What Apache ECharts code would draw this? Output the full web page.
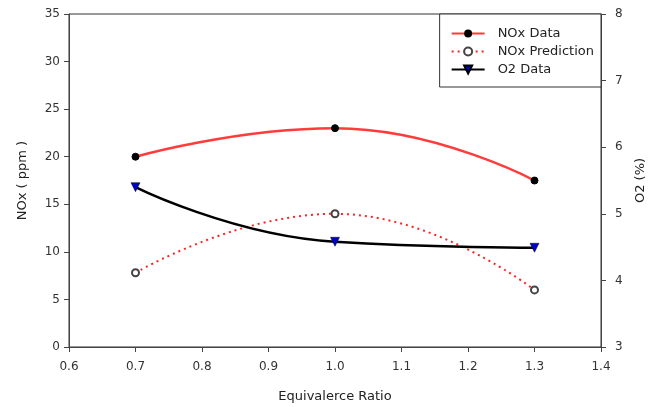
<!DOCTYPE html>
<html><head><meta charset="utf-8">
<script src="https://cdn.jsdelivr.net/npm/echarts@6/dist/echarts.min.js"></script>
<style>html,body{margin:0;padding:0;background:#fff}#c{width:652px;height:407px}</style>
</head><body><div id="c"></div>
<script>
var ratios = [0.7, 1.0, 1.3];
var noxData = [20, 23, 17.5];
var noxPrediction = [7.8, 14.0, 6.0];
var o2Data = [5.4, 4.58, 4.49];
var xTicks = [0.6, 1.4, 0.1];
var leftTicks = [0, 35, 5];
var rightTicks = [3, 8, 1];

function pairs(xs, ys){ return xs.map(function(x,i){ return [x, ys[i]]; }); }
var font = 'DejaVu Sans';
var chart = echarts.init(document.getElementById('c'));
chart.setOption({
  animation: false,
  textStyle: {fontFamily: font},
  grid: {left: 69, right: 51, top: 14, bottom: 60, outerBoundsMode: 'none', containLabel: false, show: true, borderColor: '#333', borderWidth: 1, backgroundColor: 'transparent'},
  legend: {
    orient: 'vertical', right: 51, top: 14,
    backgroundColor: '#fff', borderColor: '#333', borderWidth: 1, borderRadius: 0,
    padding: [13, 7, 11, 11], itemWidth: 33, itemHeight: 10, itemGap: 5,
    textStyle: {fontFamily: font, fontSize: 13, color: '#222', padding: [0, 0, 0, 8]},
    data: ['NOx Data', 'NOx Prediction', 'O2 Data']
  },
  xAxis: {
    type: 'value', min: xTicks[0], max: xTicks[1], interval: xTicks[2],
    name: 'Equivalerce Ratio', nameLocation: 'middle', nameGap: 43,
    nameTextStyle: {fontFamily: font, fontSize: 13, color: '#222'},
    axisLine: {show: true, lineStyle: {color: '#444', width: 1}},
    axisTick: {show: true, inside: false, length: 5, lineStyle: {color: '#444'}},
    axisLabel: {fontFamily: font, fontSize: 12, color: '#333', margin: 14, formatter: function(v){ return v.toFixed(1); }},
    splitLine: {show: false}
  },
  yAxis: [{
    type: 'value', min: leftTicks[0], max: leftTicks[1], interval: leftTicks[2],
    name: 'NOx ( ppm )', nameLocation: 'middle', nameGap: 40, nameRotate: 90,
    nameTextStyle: {fontFamily: font, fontSize: 13, color: '#222'},
    axisLine: {show: true, lineStyle: {color: '#444', width: 1}},
    axisTick: {show: true, length: 5, lineStyle: {color: '#444'}},
    axisLabel: {fontFamily: font, fontSize: 12, color: '#333', margin: 9},
    splitLine: {show: false}
  }, {
    type: 'value', position: 'right', min: rightTicks[0], max: rightTicks[1], interval: rightTicks[2],
    name: 'O2 (%)', nameLocation: 'middle', nameGap: 33, nameRotate: 90,
    nameTextStyle: {fontFamily: font, fontSize: 13, color: '#222'},
    axisLine: {show: true, lineStyle: {color: '#444', width: 1}},
    axisTick: {show: true, length: 5, lineStyle: {color: '#444'}},
    axisLabel: {fontFamily: font, fontSize: 12, color: '#333', margin: 14},
    splitLine: {show: false}
  }],
  series: [{
    name: 'NOx Data', type: 'line', smooth: 0.5, data: pairs(ratios, noxData),
    lineStyle: {color: '#ff3b3b', width: 2.5},
    symbol: 'circle', symbolSize: 7, itemStyle: {color: '#000', borderColor: '#000'}
  }, {
    name: 'NOx Prediction', type: 'line', smooth: 0.5, data: pairs(ratios, noxPrediction),
    lineStyle: {color: '#ff2222', width: 2, type: [2, 4]},
    symbol: 'emptyCircle', symbolSize: 7, itemStyle: {color: '#444', borderColor: '#444', borderWidth: 1}
  }, {
    name: 'O2 Data', type: 'line', smooth: 0.5, yAxisIndex: 1, data: pairs(ratios, o2Data),
    lineStyle: {color: '#000', width: 2.5},
    symbol: 'triangle', symbolRotate: 180, symbolSize: 9, itemStyle: {color: '#0000cc', borderColor: '#000', borderWidth: 0.5}
  }]
});
</script></body></html>
